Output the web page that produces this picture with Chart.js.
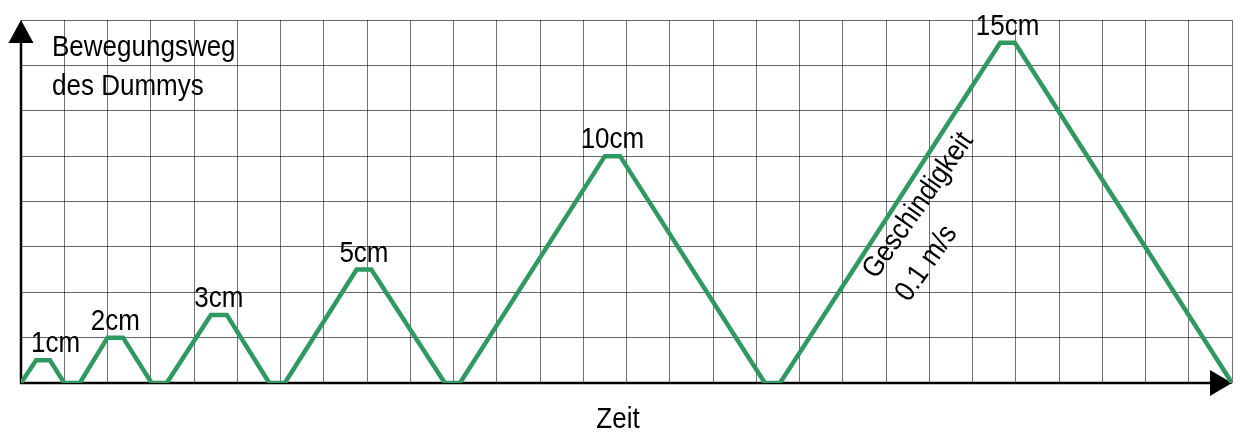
<!DOCTYPE html>
<html>
<head>
<meta charset="utf-8">
<script src="https://cdn.jsdelivr.net/npm/chart.js@4"></script>
<style>
  body { margin: 0; background: #fff; }
  .chart-container { width: 1240px; height: 435px; position: relative; }
</style>
</head>
<body>
<div class="chart-container"><canvas id="chart"></canvas></div>
<script>
// time (grid columns) and travelled distance (cm)
const timeValues = [0, 0.35, 0.67, 1.0, 1.36, 2.0, 2.36, 3.02, 3.37, 4.39, 4.76, 5.74, 6.1,
  7.76, 8.1, 9.8, 10.15, 13.5, 13.85, 17.2, 17.55, 22.64, 22.98, 28];
const distanceValues = [0, 1, 1, 0, 0, 2, 2, 0, 0, 3, 3, 0, 0,
  5, 5, 0, 0, 10, 10, 0, 0, 15, 15, 0];
// peak labels and the index of the first point of each peak plateau
const peakLabels = ['1cm', '2cm', '3cm', '5cm', '10cm', '15cm'];
const peakIndex = [1, 5, 9, 13, 17, 21];
const yAxisTitle = ['Bewegungsweg', 'des Dummys'];
const xAxisTitle = 'Zeit';
const speedNote = ['Geschindigkeit', '0.1 m/s'];
const xMax = 28, yMax = 16, yStep = 2;

const FONT = '26px "Liberation Sans", Arial, sans-serif';

// text in the picture is a bit taller than plain Arial
function tallText(ctx, text, x, y) {
  ctx.save();
  ctx.translate(x, y);
  ctx.scale(1, 1.12);
  ctx.fillText(text, 0, 0);
  ctx.restore();
}

const decorations = {
  id: 'decorations',
  beforeDatasetsDraw(chart) {
    const { ctx, chartArea: a } = chart;
    ctx.save();
    ctx.strokeStyle = '#000';
    ctx.fillStyle = '#000';
    ctx.lineWidth = 2.5;
    // y axis with arrow
    ctx.beginPath();
    ctx.moveTo(a.left, a.bottom + 1);
    ctx.lineTo(a.left, a.top + 20);
    ctx.stroke();
    ctx.beginPath();
    ctx.moveTo(a.left, a.top);
    ctx.lineTo(a.left - 12.5, a.top + 23);
    ctx.lineTo(a.left + 12.5, a.top + 23);
    ctx.closePath();
    ctx.fill();
    // x axis with arrow
    ctx.beginPath();
    ctx.moveTo(a.left - 1, a.bottom);
    ctx.lineTo(a.right - 20, a.bottom);
    ctx.stroke();
    ctx.beginPath();
    ctx.moveTo(a.right, a.bottom);
    ctx.lineTo(a.right - 22, a.bottom - 13);
    ctx.lineTo(a.right - 22, a.bottom + 13);
    ctx.closePath();
    ctx.fill();
    ctx.restore();
  },
  afterDatasetsDraw(chart) {
    const { ctx, chartArea: a, scales: { x, y } } = chart;
    ctx.save();
    ctx.fillStyle = '#000';
    ctx.font = FONT;
    ctx.textBaseline = 'alphabetic';

    ctx.textAlign = 'left';
    tallText(ctx, yAxisTitle[0], a.left + 31, a.top + 36);
    tallText(ctx, yAxisTitle[1], a.left + 31, a.top + 75);

    ctx.textAlign = 'center';
    tallText(ctx, xAxisTitle, 618, a.bottom + 45);

    peakLabels.forEach((label, i) => {
      const k = peakIndex[i];
      const mid = (x.getPixelForValue(timeValues[k]) + x.getPixelForValue(timeValues[k + 1])) / 2;
      const w = ctx.measureText(label).width;
      const px = Math.max(mid, a.left + w / 2 + 10);
      tallText(ctx, label, px, y.getPixelForValue(distanceValues[k]) - 8);
    });

    ctx.textAlign = 'left';
    ctx.translate(876, 280);
    ctx.rotate(-55 * Math.PI / 180);
    tallText(ctx, speedNote[0], 0, 0);
    tallText(ctx, speedNote[1], 0, 40);
    ctx.restore();
  }
};

new Chart(document.getElementById('chart').getContext('2d'), {
  type: 'line',
  data: {
    datasets: [{
      data: timeValues.map((t, i) => ({ x: t, y: distanceValues[i] })),
      borderColor: '#2f995f',
      borderWidth: 4.5,
      pointRadius: 0,
      tension: 0,
      fill: false
    }]
  },
  options: {
    responsive: true,
    maintainAspectRatio: false,
    animation: false,
    layout: { padding: { left: 21, right: 8, top: 20, bottom: 52 } },
    scales: {
      x: {
        type: 'linear',
        min: 0,
        max: xMax,
        border: { display: false },
        ticks: { display: false, stepSize: 1 },
        grid: { color: 'rgba(0, 0, 0, 0.55)', lineWidth: 1, drawTicks: false }
      },
      y: {
        min: 0,
        max: yMax,
        border: { display: false },
        ticks: { display: false, stepSize: yStep },
        grid: { color: 'rgba(0, 0, 0, 0.6)', lineWidth: 1, drawTicks: false }
      }
    },
    plugins: {
      legend: { display: false },
      tooltip: { enabled: false }
    }
  },
  plugins: [decorations]
});
</script>
</body>
</html>
